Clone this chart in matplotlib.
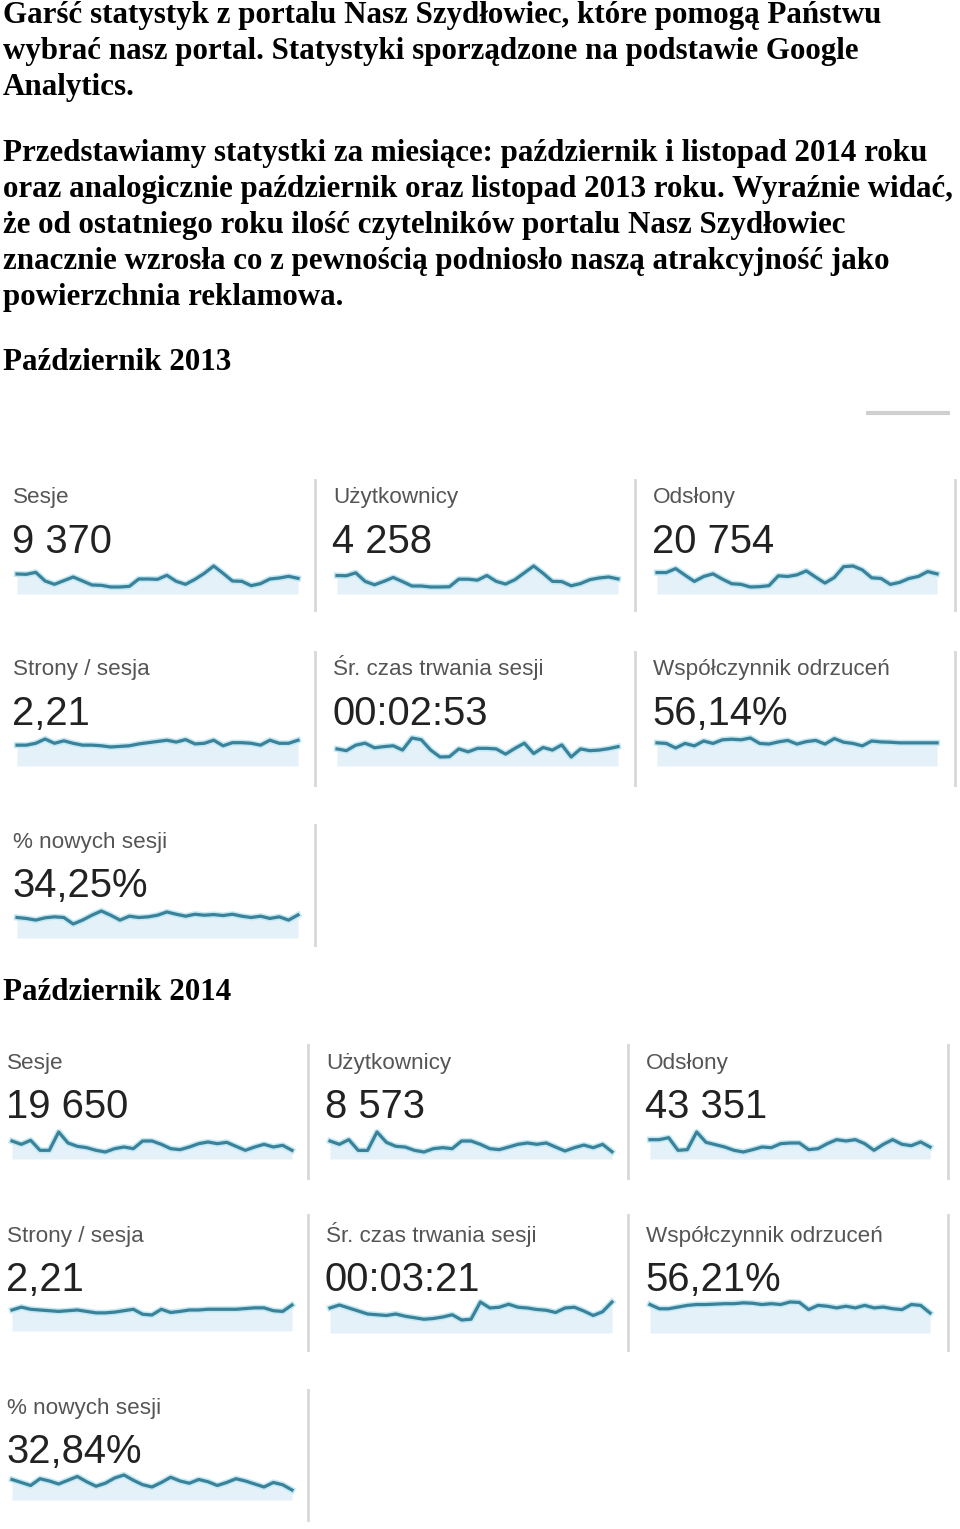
import matplotlib.pyplot as plt
import numpy as np

W, H = 960, 1529

# --- text of the page ---
intro_lines = [
    "Garść statystyk z portalu Nasz Szydłowiec, które pomogą Państwu",
    "wybrać nasz portal. Statystyki sporządzone na podstawie Google",
    "Analytics.",
]
body_lines = [
    "Przedstawiamy statystki za miesiące: październik i listopad 2014 roku",
    "oraz analogicznie październik oraz listopad 2013 roku. Wyraźnie widać,",
    "że od ostatniego roku ilość czytelników portalu Nasz Szydłowiec",
    "znacznie wzrosła co z pewnością podniosło naszą atrakcyjność jako",
    "powierzchnia reklamowa.",
]
section_titles = ["Październik 2013", "Październik 2014"]

metric_names = ["Sesje", "Użytkownicy", "Odsłony",
                "Strony / sesja", "Śr. czas trwania sesji", "Współczynnik odrzuceń",
                "% nowych sesji"]
values_2013 = ["9 370", "4 258", "20 754", "2,21", "00:02:53", "56,14%", "34,25%"]
values_2014 = ["19 650", "8 573", "43 351", "2,21", "00:03:21", "56,21%", "32,84%"]

# --- daily series (October, 31 days) ---
sesje_2013 = [353, 350, 368, 290, 260, 293, 326, 290, 254, 251, 236, 236, 242, 308, 308, 305,
              341, 287, 260, 305, 359, 425, 359, 290, 287, 248, 266, 308, 317, 332, 314]
uzytk_2013 = [155, 154, 166, 131, 117, 131, 147, 130, 112, 112, 108, 108, 109, 140, 140, 136,
              155, 131, 120, 138, 166, 194, 164, 131, 130, 113, 122, 138, 145, 149, 141]
odslony_2013 = [781, 781, 877, 717, 565, 685, 749, 621, 509, 493, 429, 437, 461, 701, 685, 725,
                821, 669, 525, 661, 925, 941, 845, 653, 637, 493, 541, 637, 685, 805, 749]
strony_2013 = [2.15, 2.15, 2.21, 2.35, 2.21, 2.29, 2.21, 2.15, 2.15, 2.13, 2.09, 2.11, 2.13, 2.19,
               2.23, 2.27, 2.31, 2.25, 2.33, 2.19, 2.21, 2.31, 2.13, 2.23, 2.23, 2.21, 2.15, 2.31,
               2.21, 2.21, 2.31]
czas_2013 = [173, 167, 186, 193, 177, 181, 184, 169, 211, 205, 169, 145, 146, 173, 163, 175,
             175, 173, 155, 175, 193, 157, 178, 169, 187, 145, 173, 167, 169, 174, 181]
odrzuc_2013 = [55.4, 54.8, 50.3, 54.8, 52.4, 57.2, 54.8, 58.4, 59.0, 58.4, 60.2, 54.8, 54.2, 56.3,
               57.8, 54.2, 56.6, 57.8, 54.2, 59.6, 56.0, 54.8, 52.4, 57.2, 56.3, 56.0, 55.4, 55.4,
               55.4, 55.4, 55.4]
nowe_2013 = [33.7, 32.8, 31.3, 33.4, 34.3, 33.7, 27.7, 31.3, 35.8, 39.7, 35.8, 31.3, 34.9, 33.7,
             34.3, 35.8, 38.8, 36.7, 34.9, 36.7, 35.8, 36.4, 35.5, 36.7, 34.9, 33.7, 34.9, 32.8,
             34.3, 31.3, 36.1]

sesje_2014 = [718, 658, 730, 550, 550, 880, 682, 622, 598, 550, 520, 580, 610, 580, 718, 718,
              658, 580, 562, 610, 670, 700, 670, 694, 622, 550, 610, 658, 610, 640, 550]
uzytk_2014 = [315, 288, 326, 239, 239, 388, 304, 272, 266, 239, 226, 253, 261, 253, 315, 315,
              288, 253, 245, 266, 288, 299, 288, 299, 266, 234, 261, 282, 261, 288, 228]
odslony_2014 = [1594, 1594, 1678, 1146, 1174, 1916, 1482, 1384, 1286, 1146, 1076, 1174, 1286,
                1258, 1426, 1454, 1454, 1174, 1216, 1426, 1594, 1538, 1594, 1426, 1146, 1398,
                1594, 1398, 1342, 1496, 1286]
strony_2014 = [2.23, 2.31, 2.25, 2.23, 2.21, 2.19, 2.21, 2.23, 2.19, 2.15, 2.15, 2.17, 2.21, 2.25,
               2.11, 2.09, 2.25, 2.16, 2.19, 2.23, 2.23, 2.25, 2.25, 2.25, 2.25, 2.27, 2.29, 2.29,
               2.21, 2.19, 2.37]
czas_2014 = [216, 228, 216, 204, 192, 189, 186, 192, 183, 177, 171, 174, 180, 189, 168, 171,
             240, 216, 219, 231, 219, 216, 210, 207, 198, 216, 219, 204, 186, 201, 240]
odrzuc_2014 = [57.4, 54.4, 54.4, 55.6, 56.8, 57.4, 57.4, 57.7, 58.0, 58.0, 58.6, 58.3, 57.4, 58.0,
               57.4, 59.2, 58.9, 53.8, 56.8, 56.2, 55.0, 56.2, 55.0, 56.8, 55.0, 55.6, 54.4, 53.8,
               57.4, 56.8, 51.4]
nowe_2014 = [33.0, 32.6, 32.2, 33.1, 32.8, 32.4, 32.9, 33.4, 32.7, 32.1, 32.5, 33.2, 33.6, 32.9,
             32.3, 32.0, 32.6, 33.3, 32.8, 32.5, 33.0, 32.7, 32.2, 32.6, 33.1, 32.8, 32.4, 32.0,
             32.6, 32.3, 31.6]

series_2013 = [sesje_2013, uzytk_2013, odslony_2013, strony_2013, czas_2013, odrzuc_2013, nowe_2013]
series_2014 = [sesje_2014, uzytk_2014, odslony_2014, strony_2014, czas_2014, odrzuc_2014, nowe_2014]

# --- layout in screenshot pixels ---
blocks = {
    2013: dict(cols=[13, 333, 653], spark_x=[(17, 298), (337, 618), (657, 937)],
               dividers=[315, 635, 955],
               title_y=[503, 675, 848], value_y=[553, 725, 897],
               div_y=[(480, 610), (652, 785), (825, 945)],
               # (y of max, y of min, fill bottom) per metric
               spark_y=[(566, 587, 594), (566, 587, 594), (566, 587, 594),
                        (739, 747, 766), (738, 757, 766), (738, 748, 766),
                        (911, 924, 938)]),
    2014: dict(cols=[7, 326, 646], spark_x=[(12, 292), (330, 612), (650, 930)],
               dividers=[308, 628, 948],
               title_y=[1069, 1242, 1414], value_y=[1118, 1291, 1463],
               div_y=[(1045, 1178), (1215, 1350), (1390, 1520)],
               spark_y=[(1132, 1152, 1159), (1132, 1152, 1159), (1132, 1152, 1159),
                        (1305, 1315, 1331), (1302, 1320, 1333), (1302, 1313, 1333),
                        (1475, 1490, 1500)]),
}

LINE = '#3a8299'
GLOW = '#c4e8f3'
FILL = '#e5f1f8'
DIV = '#d8d8d8'

fig = plt.figure(figsize=(W / 100, H / 100), dpi=100)
bg = fig.add_axes([0, 0, 1, 1])
bg.set_xlim(0, W)
bg.set_ylim(H, 0)
bg.axis('off')

serif = dict(family='Liberation Serif', fontweight='bold', fontsize=22.3, color='black')
for i, line in enumerate(intro_lines):
    bg.text(3, 15 + 36 * i, line, va='center', ha='left', **serif)
for i, line in enumerate(body_lines):
    bg.text(3, 153 + 36 * i, line, va='center', ha='left', **serif)
bg.text(3, 363, section_titles[0], va='center', ha='left', **serif)
bg.text(3, 993, section_titles[1], va='center', ha='left', **serif)

# small grey bar top right
bg.plot([866, 950], [413, 413], color='#cfcfcf', lw=3, solid_capstyle='butt')


def pix_axes(x0, y0, x1, y1):
    return fig.add_axes([x0 / W, 1 - y1 / H, (x1 - x0) / W, (y1 - y0) / H])


for year, values, series in [(2013, values_2013, series_2013), (2014, values_2014, series_2014)]:
    b = blocks[year]
    for k in range(7):
        row, col = divmod(k, 3)
        x = b['cols'][col]
        bg.text(x, b['title_y'][row], metric_names[k], family='Liberation Sans',
                fontsize=16.2, color='#555555', va='baseline', ha='left')
        bg.text(x - 1, b['value_y'][row], values[k], family='Liberation Sans',
                fontsize=28.8, color='#222222', va='baseline', ha='left')

        data = np.array(series[k], dtype=float)
        days = np.arange(1, len(data) + 1)
        y_hi, y_lo, y_f = b['spark_y'][k]
        sx0, sx1 = b['spark_x'][col]
        vmin, vmax = data.min(), data.max()
        ppu = (y_lo - y_hi) / (vmax - vmin)
        top_pad = 4
        ax = pix_axes(sx0, y_hi - top_pad, sx1, y_f)
        lo = vmin - (y_f - y_lo) / ppu
        hi = vmax + top_pad / ppu
        ax.set_ylim(lo, hi)
        ax.set_xlim(days[0], days[-1])
        ax.fill_between(days, data, lo, color=FILL, lw=0)
        ax.plot(days, data, color=GLOW, lw=4.5, solid_joinstyle='round', clip_on=False)
        ax.plot(days, data, color=LINE, lw=2.3, solid_joinstyle='round', clip_on=False)
        ax.axis('off')

    # grey separators between tiles
    for row, (d0, d1) in enumerate(b['div_y']):
        ncols = 3 if row < 2 else 1
        for c in range(ncols):
            bg.plot([b['dividers'][c]] * 2, [d0, d1], color=DIV, lw=2)

fig.savefig('out.png', dpi=100)
